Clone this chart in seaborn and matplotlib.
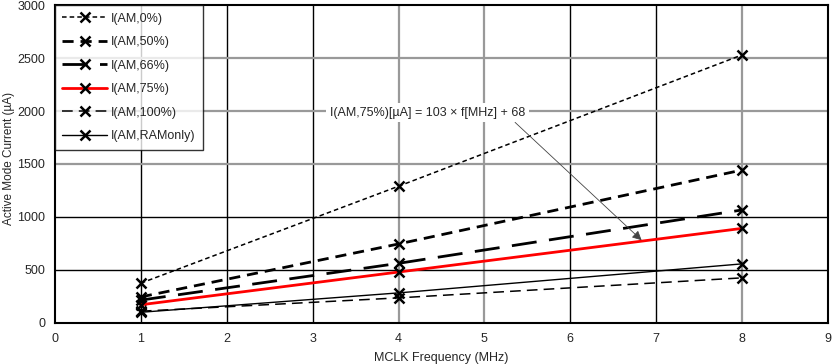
import matplotlib
matplotlib.use("Agg")
import matplotlib.pyplot as plt
import seaborn as sns

# valores
frecuencia = [1, 4, 8]
i_am_0 = [375, 1290, 2530]
i_am_50 = [245, 745, 1443]
i_am_66 = [215, 562, 1066]
i_am_75 = [171, 480, 892]
i_am_100 = [110, 236, 425]
i_am_ram = [100, 283, 557]

etiquetas = ["I(AM,0%)", "I(AM,50%)", "I(AM,66%)", "I(AM,75%)", "I(AM,100%)", "I(AM,RAMonly)"]
series = [i_am_0, i_am_50, i_am_66, i_am_75, i_am_100, i_am_ram]
estilos = [
    dict(color="black", lw=1.1, ls=(0, (3, 2))),
    dict(color="black", lw=2.0, ls=(0, (4, 2.5))),
    dict(color="black", lw=2.0, ls=(0, (9, 4.5))),
    dict(color="red", lw=2.0, ls="-"),
    dict(color="black", lw=1.1, ls=(0, (7, 4))),
    dict(color="black", lw=1.0, ls="-"),
]

sns.set_style("white")
plt.rcParams["font.family"] = ["Liberation Sans", "DejaVu Sans"]

fig, ax = plt.subplots(figsize=(8.33, 3.64), dpi=100)
fig.subplots_adjust(left=0.066, right=0.994, top=0.986, bottom=0.113)

# rejilla: algunas lineas negras y otras grises, como en el original
for xv in [1, 2, 3, 6, 7]:
    ax.axvline(xv, color="black", lw=1.0, zorder=0)
for xv in [4, 5, 8]:
    ax.axvline(xv, color="#999999", lw=1.6, zorder=0)
for yv in [500, 1000]:
    ax.axhline(yv, color="black", lw=1.0, zorder=0)
for yv in [1500, 2000, 2500]:
    ax.axhline(yv, color="#999999", lw=1.6, zorder=0)

for valores, etiqueta, est in zip(series, etiquetas, estilos):
    sns.lineplot(x=frecuencia, y=valores, ax=ax, label=etiqueta,
                 color=est["color"], linewidth=est["lw"], linestyle=est["ls"],
                 marker="x", markersize=7, markeredgewidth=1.8,
                 markeredgecolor="black", zorder=3)

ax.set_xlim(0, 9)
ax.set_ylim(0, 3000)
ax.set_xticks(range(0, 10))
ax.set_yticks(range(0, 3001, 500))
ax.tick_params(labelsize=9, length=0, pad=7)
ax.set_xlabel("MCLK Frequency (MHz)", fontsize=9, labelpad=5)
ax.set_ylabel("")
fig.text(0.011, 0.566, "Active Mode Current (µA)", fontsize=8.5, rotation=90,
         ha="center", va="center")
for s in ax.spines.values():
    s.set_color("black")
    s.set_linewidth(1.5)

leg = ax.legend(loc="upper left", fontsize=9, frameon=True, fancybox=False,
                borderaxespad=0, handlelength=3.6, handletextpad=0.3,
                labelspacing=0.92, borderpad=0.6)
leg.get_frame().set_edgecolor("black")
leg.get_frame().set_linewidth(1.0)
leg.set_zorder(5)

ax.annotate("I(AM,75%)[µA] = 103 × f[MHz] + 68", xy=(6.83, 780), xytext=(4.34, 1985),
            fontsize=9, ha="center", va="center",
            bbox=dict(boxstyle="square,pad=0.3", fc="white", ec="none"),
            arrowprops=dict(arrowstyle="-|>", color="#444444", lw=0.6,
                            mutation_scale=14, shrinkA=0, shrinkB=0,
                            relpos=(0.92, 0.1)),
            zorder=4)

fig.savefig("out.png", dpi=100)
